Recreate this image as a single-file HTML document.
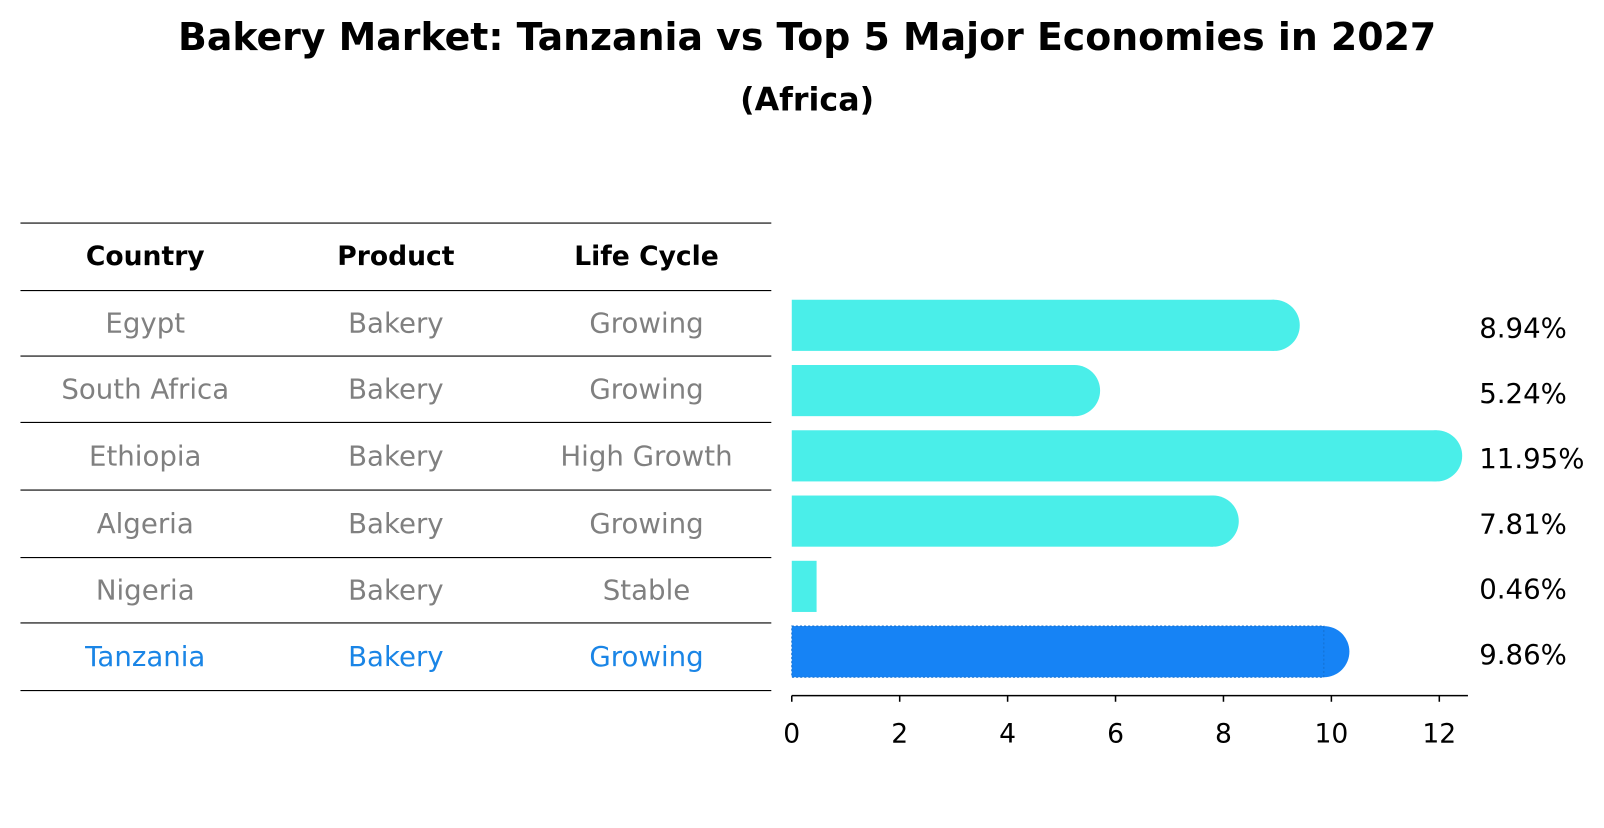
<!DOCTYPE html>
<html><head><meta charset="utf-8"><style>
body{margin:0;background:#fff;font-family:"Liberation Sans","DejaVu Sans",sans-serif;}
</style></head><body>
<svg width="1604" height="823" viewBox="0 0 1568 804.5" xmlns="http://www.w3.org/2000/svg" font-family="DejaVu Sans, Liberation Sans, sans-serif">
<text x="789" y="49" text-anchor="middle" font-size="37" font-weight="bold">Bakery Market: Tanzania vs Top 5 Major Economies in 2027</text>
<text x="789" y="108" text-anchor="middle" font-size="31" font-weight="bold">(Africa)</text>
<g id="table"></g>
<g id="bars"></g>
</svg>
<script>
const countries=["Egypt","South Africa","Ethiopia","Algeria","Nigeria","Tanzania"];
const products=["Bakery","Bakery","Bakery","Bakery","Bakery","Bakery"];
const lifeCycles=["Growing","Growing","High Growth","Growing","Stable","Growing"];
const values=[8.94,5.24,11.95,7.81,0.46,9.86];
const valueLabels=["8.94%","5.24%","11.95%","7.81%","0.46%","9.86%"];
const ticks=[0,2,4,6,8,10,12];
const NS="http://www.w3.org/2000/svg";
function mk(t,a,p){const e=document.createElementNS(NS,t);for(const k in a)e.setAttribute(k,a[k]);p.appendChild(e);return e;}
const tbl=document.getElementById('table'),bars=document.getElementById('bars');
const lineYs=[218,284,348,413,479,545,609,675];
lineYs.forEach((y,i)=>{const l=mk('line',{x1:20,x2:754,y1:y,y2:y,stroke:'#000','stroke-width':1.1},tbl);

});
const colX=[142,387,632];
["Country","Product","Life Cycle"].forEach((h,i)=>{const t=mk('text',{x:colX[i],y:259,'text-anchor':'middle','font-size':26,'font-weight':'bold'},tbl);t.textContent=h;

});
const x0=774,sx=(1407-774)/12;
const X=v=>x0+v*sx;
const rowY=i=>318+i*63.8;
countries.forEach((c,i)=>{
  const hi=c==="Tanzania";
  const col=hi?'#1a85e6':'#808080';
  [c,products[i],lifeCycles[i]].forEach((s,j)=>{const t=mk('text',{x:colX[j],y:(lineYs[i+1]+lineYs[i+2])/2+9,'text-anchor':'middle','font-size':27,fill:col},tbl);t.textContent=s;
  
  });
  const y=rowY(i),h=50,fill=hi?'#1683f5':'#4aeee9';
  const g=mk('g',{},bars);
  
  
  const w=X(values[i])-x0;
  mk('rect',{x:x0,y:y-h/2,width:w,height:h,fill:fill},g);
  if(w>25) mk('circle',{cx:X(values[i]),cy:y,r:h/2,fill:fill},g);
  if(hi) mk('rect',{x:x0,y:y-h/2,width:w,height:h,fill:'none',stroke:'#1570d0','stroke-dasharray':'2 2','stroke-width':1},g);
  const t=mk('text',{x:1446,y:y+12,'font-size':27},bars);t.textContent=valueLabels[i];
  
  
});
const ax=mk('line',{x1:x0,x2:1435,y1:680,y2:680,stroke:'#000','stroke-width':1.5},bars);


ticks.forEach(v=>{mk('line',{x1:X(v),x2:X(v),y1:680,y2:686,stroke:'#000','stroke-width':1.5},bars);
const t=mk('text',{x:X(v),y:726,'text-anchor':'middle','font-size':26},bars);t.textContent=v;

});
</script>
</body></html>
